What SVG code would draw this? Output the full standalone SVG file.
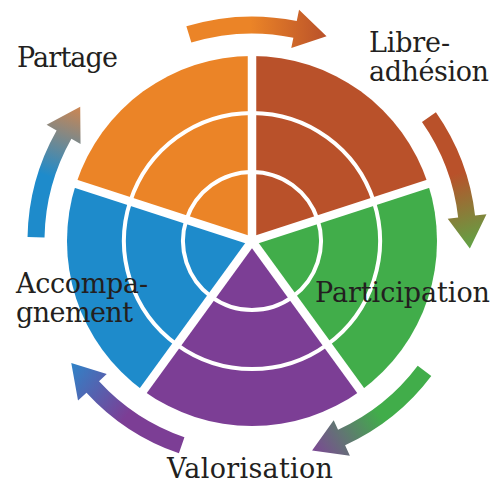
<svg xmlns="http://www.w3.org/2000/svg" xmlns:xlink="http://www.w3.org/1999/xlink" width="496" height="483" viewBox="0 0 496 483">
  <style>
    .ring { fill: none; stroke: #ffffff; stroke-width: 4; }
    .sep { stroke: #ffffff; stroke-width: 8.5; stroke-linecap: butt; }
    .label { font-family: "DejaVu Serif", Georgia, "Liberation Serif", serif; font-size: 27px; fill: #231f20; }
  </style>
  <defs>
    <!-- one curved arrow, drawn at the top; the others are rotated copies -->
    <path id="cycle-arrow" d="M186.36,26.31 A224.5,224.5 0 0 1 296.76,21.01 L299.05,9.74 L326.56,36.15 L291.28,47.96 L293.37,37.67 A207.5,207.5 0 0 0 191.33,42.57 Z"/>
    <linearGradient id="g-orange-rust" gradientUnits="userSpaceOnUse" x1="188" y1="34" x2="327" y2="36">
      <stop offset="0" stop-color="#eb8427"/><stop offset="0.45" stop-color="#eb8427"/><stop offset="1" stop-color="#b9512a"/>
    </linearGradient>
    <linearGradient id="g-rust-green" gradientUnits="userSpaceOnUse" x1="188" y1="34" x2="327" y2="36">
      <stop offset="0" stop-color="#b9512a"/><stop offset="0.45" stop-color="#b9512a"/><stop offset="1" stop-color="#5fa446"/>
    </linearGradient>
    <linearGradient id="g-green-purple" gradientUnits="userSpaceOnUse" x1="188" y1="34" x2="327" y2="36">
      <stop offset="0" stop-color="#41ad4a"/><stop offset="0.45" stop-color="#41ad4a"/><stop offset="1" stop-color="#7c4795"/>
    </linearGradient>
    <linearGradient id="g-purple-blue" gradientUnits="userSpaceOnUse" x1="188" y1="34" x2="327" y2="36">
      <stop offset="0" stop-color="#7c3e95"/><stop offset="0.45" stop-color="#7c3e95"/><stop offset="1" stop-color="#2f84c8"/>
    </linearGradient>
    <linearGradient id="g-blue-orange" gradientUnits="userSpaceOnUse" x1="188" y1="34" x2="327" y2="36">
      <stop offset="0" stop-color="#1e8bcb"/><stop offset="0.45" stop-color="#1e8bcb"/><stop offset="1" stop-color="#cf8650"/>
    </linearGradient>
  </defs>

  <!-- sectors of the wheel, centre (252,241), radius 185 -->
  <g id="partage">
    <path d="M252,241 L76.05,183.83 A185,185 0 0 1 252,56 Z" fill="#eb8427"/>
    <path class="ring" d="M186.38,219.68 A69,69 0 0 1 252,172"/>
    <path class="ring" d="M130.26,201.45 A128,128 0 0 1 252,113"/>
    <text class="label" x="17" y="67" textLength="101">Partage</text>
  </g>
  <g id="libre-adhesion">
    <path d="M252,241 L252,56 A185,185 0 0 1 427.95,183.83 Z" fill="#b9512a"/>
    <path class="ring" d="M252,172 A69,69 0 0 1 317.62,219.68"/>
    <path class="ring" d="M252,113 A128,128 0 0 1 373.74,201.45"/>
    <text class="label" x="369" y="52" textLength="81">Libre-</text>
    <text class="label" x="369" y="81" textLength="120">adhésion</text>
  </g>
  <g id="participation">
    <path d="M252,241 L427.95,183.83 A185,185 0 0 1 360.74,390.67 Z" fill="#41ad4a"/>
    <path class="ring" d="M317.62,219.68 A69,69 0 0 1 292.56,296.82"/>
    <path class="ring" d="M373.74,201.45 A128,128 0 0 1 327.24,344.55"/>
    <text class="label" x="315" y="302" textLength="175">Participation</text>
  </g>
  <g id="valorisation">
    <path d="M252,241 L360.74,390.67 A185,185 0 0 1 143.26,390.67 Z" fill="#7c3e95"/>
    <path class="ring" d="M292.56,296.82 A69,69 0 0 1 211.44,296.82"/>
    <path class="ring" d="M327.24,344.55 A128,128 0 0 1 176.76,344.55"/>
    <text class="label" x="167" y="478" textLength="166">Valorisation</text>
  </g>
  <g id="accompagnement">
    <path d="M252,241 L143.26,390.67 A185,185 0 0 1 76.05,183.83 Z" fill="#1e8bcb"/>
    <path class="ring" d="M211.44,296.82 A69,69 0 0 1 186.38,219.68"/>
    <path class="ring" d="M176.76,344.55 A128,128 0 0 1 130.26,201.45"/>
    <text class="label" x="16" y="293" textLength="132">Accompa-</text>
    <text class="label" x="16" y="322" textLength="117">gnement</text>
  </g>

  <!-- white gaps between sectors -->
  <g id="separators">
    <line class="sep" x1="252" y1="241" x2="252" y2="50"/>
    <line class="sep" x1="252" y1="241" x2="433.66" y2="181.98"/>
    <line class="sep" x1="252" y1="241" x2="364.27" y2="395.53"/>
    <line class="sep" x1="252" y1="241" x2="139.73" y2="395.53"/>
    <line class="sep" x1="252" y1="241" x2="70.34" y2="181.98"/>
  </g>

  <!-- cycle arrows between the stages -->
  <g id="connectors">
    <use xlink:href="#cycle-arrow" href="#cycle-arrow" fill="url(#g-orange-rust)"/>
    <use xlink:href="#cycle-arrow" href="#cycle-arrow" fill="url(#g-rust-green)" transform="rotate(72 252 241)"/>
    <use xlink:href="#cycle-arrow" href="#cycle-arrow" fill="url(#g-green-purple)" transform="rotate(144 252 241)"/>
    <use xlink:href="#cycle-arrow" href="#cycle-arrow" fill="url(#g-purple-blue)" transform="rotate(216 252 241)"/>
    <use xlink:href="#cycle-arrow" href="#cycle-arrow" fill="url(#g-blue-orange)" transform="rotate(288 252 241)"/>
  </g>
</svg>
